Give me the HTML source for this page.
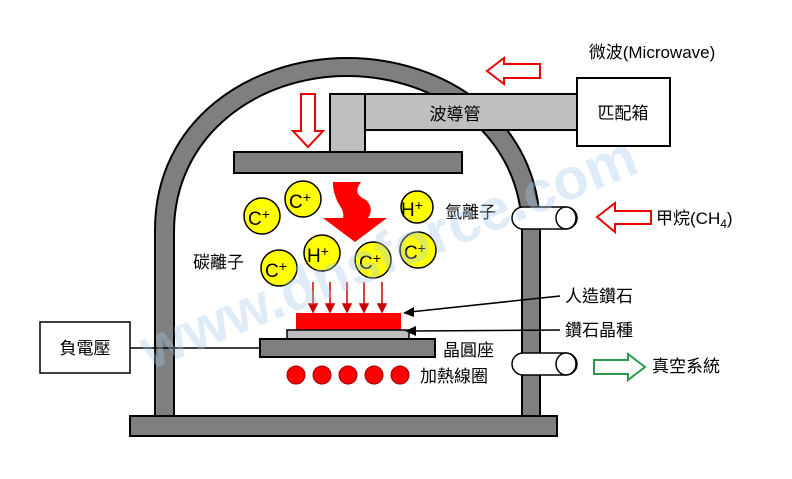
<!DOCTYPE html>
<html><head><meta charset="utf-8"><style>
body{margin:0;background:#fff}
svg text{font-family:"Liberation Sans","Noto Sans CJK TC",sans-serif;fill:#000}
</style></head><body>
<svg width="792" height="474" viewBox="0 0 792 474" xmlns="http://www.w3.org/2000/svg">
<path d="M155,417 L155,230 C155,120 250,58 347,58 C445,58 540,120 540,230 L540,417 Z" fill="#7f7f7f" stroke="#000" stroke-width="2"/>
<path d="M174,417 L174,232 C174,135 258,76 347,76 C437,76 522,135 522,232 L522,417 Z" fill="#fff" stroke="#000" stroke-width="2"/>
<rect x="130" y="416" width="427" height="20" fill="#7f7f7f" stroke="#000" stroke-width="2"/>
<rect x="330" y="94" width="35" height="60" fill="#bfbfbf" stroke="#000" stroke-width="2"/>
<rect x="365" y="94" width="212" height="36" fill="#bfbfbf" stroke="#000" stroke-width="2"/>
<text x="455" y="120" font-size="17" text-anchor="middle">波導管</text>
<rect x="577" y="78" width="93" height="68" fill="#fff" stroke="#000" stroke-width="2"/>
<text x="623" y="119" font-size="17" text-anchor="middle">匹配箱</text>
<text x="652" y="58" font-size="17" text-anchor="middle">微波(Microwave)</text>
<rect x="234" y="152" width="228" height="21" fill="#7f7f7f" stroke="#000" stroke-width="2"/>
<path d="M301,94 L315,94 L315,131 L323,131 L308,147 L293,131 L301,131 Z" fill="#fff" stroke="#e00" stroke-width="2"/>
<path d="M540,64 L504,64 L504,58 L487,71 L504,84 L504,78 L540,78 Z" fill="#fff" stroke="#e00" stroke-width="2"/>
<path d="M651,211 L615,211 L615,203 L597,217 L615,232 L615,224 L651,224 Z" fill="#fff" stroke="#e00" stroke-width="2"/>
<path d="M594,360 L628,360 L628,354 L645,367 L628,380 L628,374 L594,374 Z" fill="#fff" stroke="#2a9a4a" stroke-width="2"/>
<path d="M333,182 L361,182 C355,190 356,195 366,200 C372,206 372,212 368,218 L387,218 L355,242 L323,218 L343,218 C345,210 338,205 336,198 C333,190 333,186 333,182 Z" fill="#f00"/>
<g stroke="#000" stroke-width="1.5" fill="#ff0">
<circle cx="262" cy="216" r="18"/><circle cx="303" cy="199" r="18"/><circle cx="417" cy="207" r="16"/>
<circle cx="322" cy="253" r="18"/><circle cx="373" cy="260" r="18"/><circle cx="418" cy="250" r="18"/><circle cx="279" cy="268" r="18"/>
</g>
<g font-size="19">
<text x="248" y="225">C<tspan font-size="14" dy="-6">+</tspan></text>
<text x="289" y="208">C<tspan font-size="14" dy="-6">+</tspan></text>
<text x="401" y="216">H<tspan font-size="14" dy="-6">+</tspan></text>
<text x="307" y="262">H<tspan font-size="14" dy="-6">+</tspan></text>
<text x="359" y="269">C<tspan font-size="14" dy="-6">+</tspan></text>
<text x="404" y="259">C<tspan font-size="14" dy="-6">+</tspan></text>
<text x="265" y="277">C<tspan font-size="14" dy="-6">+</tspan></text>
</g>
<text x="445" y="218" font-size="17">氫離子</text>
<text x="193" y="268" font-size="17">碳離子</text>
<g stroke="#c00" stroke-width="1.5" fill="#c00">
<line x1="313" y1="282" x2="313" y2="306"/><path d="M309,304 L317,304 L313,312 Z"/>
<line x1="330" y1="282" x2="330" y2="306"/><path d="M326,304 L334,304 L330,312 Z"/>
<line x1="347" y1="282" x2="347" y2="306"/><path d="M343,304 L351,304 L347,312 Z"/>
<line x1="364" y1="282" x2="364" y2="306"/><path d="M360,304 L368,304 L364,312 Z"/>
<line x1="382" y1="282" x2="382" y2="306"/><path d="M378,304 L386,304 L382,312 Z"/>
</g>
<rect x="296" y="313" width="105" height="18" fill="#f00"/>
<rect x="287" y="330" width="122" height="9" fill="#bfbfbf" stroke="#000" stroke-width="1.5"/>
<rect x="260" y="339" width="175" height="18" fill="#7f7f7f" stroke="#000" stroke-width="2"/>
<g fill="#f00" stroke="#900"><circle cx="296" cy="375" r="9"/><circle cx="322" cy="375" r="9"/><circle cx="348" cy="375" r="9"/><circle cx="374" cy="375" r="9"/><circle cx="400" cy="375" r="9"/></g>
<text x="443" y="356" font-size="17">晶圓座</text>
<text x="420" y="382" font-size="17">加熱線圈</text>
<line x1="560" y1="296" x2="410" y2="312" stroke="#000" stroke-width="1.5"/><path d="M403,313 L414,307 L414,317 Z"/>
<line x1="560" y1="330" x2="412" y2="331" stroke="#000" stroke-width="1.5"/><path d="M405,331 L416,326 L416,336 Z"/>
<text x="565" y="302" font-size="17">人造鑽石</text>
<text x="565" y="336" font-size="17">鑽石晶種</text>
<path d="M523,207 L566,207 A11,11 0 0 1 566,229 L523,229 A11,11 0 0 1 523,207 Z" fill="#fff" stroke="#000" stroke-width="1.5"/>
<ellipse cx="566" cy="218" rx="10" ry="11" fill="#fff" stroke="#000" stroke-width="1.5"/>
<path d="M523,353 L566,353 A11,11 0 0 1 566,375 L523,375 A11,11 0 0 1 523,353 Z" fill="#fff" stroke="#000" stroke-width="1.5"/>
<ellipse cx="566" cy="364" rx="10" ry="11" fill="#fff" stroke="#000" stroke-width="1.5"/>
<text x="656" y="224" font-size="17">甲烷(CH<tspan font-size="12" dy="4">4</tspan><tspan dy="-4">)</tspan></text>
<text x="652" y="372" font-size="17">真空系統</text>
<rect x="40" y="322" width="90" height="51" fill="#fff" stroke="#000" stroke-width="1.5"/>
<text x="85" y="354" font-size="17" text-anchor="middle">負電壓</text>
<line x1="130" y1="348" x2="260" y2="348" stroke="#000" stroke-width="1.5"/>
<text x="150" y="370" font-size="58" font-weight="bold" transform="rotate(-22 150 370)" style="fill:#a8c8ec;opacity:0.35">www.dnsforce.com</text>
</svg>
</body></html>
